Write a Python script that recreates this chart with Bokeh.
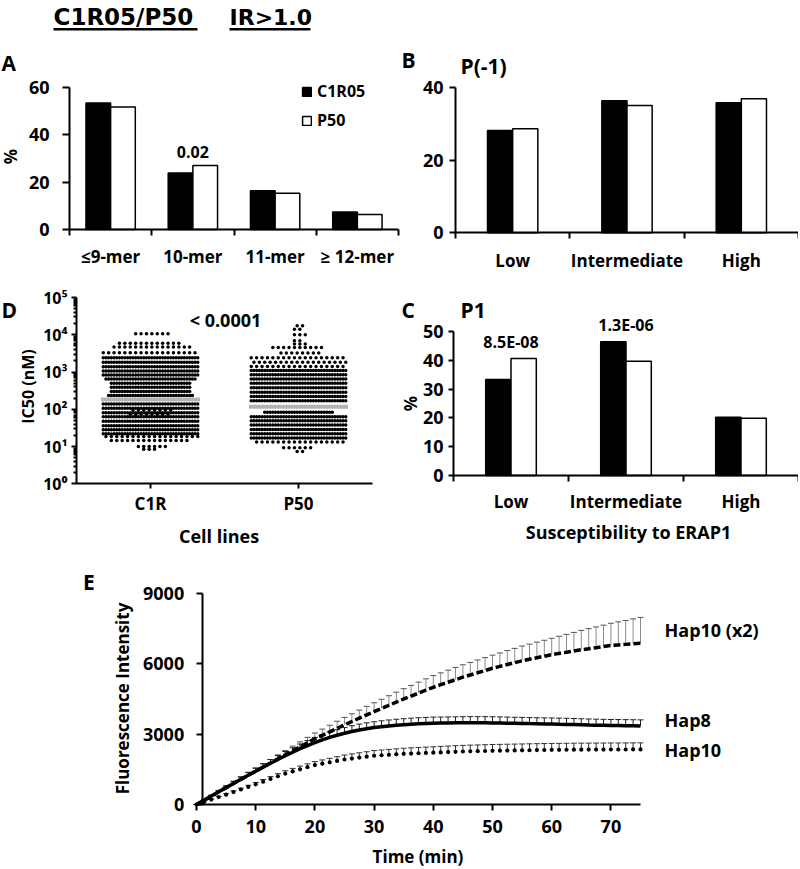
import numpy as np
from bokeh.plotting import figure
from bokeh.models import Range1d, FixedTicker, Label, Legend, LegendItem, BoxAnnotation
from bokeh.layouts import column, row
from bokeh.embed import file_html
from bokeh.resources import INLINE

FONT = "Open Sans"
HEAD_FONT = "DejaVu Sans"
NUM = "18px"
CAT = "17px"

# ---------------- data ----------------
A_CATS = ["≤9-mer", "10-mer", "11-mer", "≥ 12-mer"]
A_C1R05 = [53.3, 23.8, 16.3, 7.4]
A_P50 = [51.7, 27.0, 15.3, 6.3]
A_NOTE = ["", "0.02", "", ""]

B_CATS = ["Low", "Intermediate", "High"]
B_C1R05 = [28.1, 36.3, 35.7]
B_P50 = [28.6, 35.0, 36.8]

C_CATS = ["Low", "Intermediate", "High"]
C_C1R05 = [33.3, 46.4, 20.2]
C_P50 = [40.6, 39.7, 19.9]
C_NOTE = ["8.5E-08", "1.3E-06", ""]

D_GROUPS = ["C1R", "P50"]
# swarm rows: log10(IC50 nM) of each row and number of peptides in the row
C1R_LOG = [4.03, 3.77, 3.67, 3.52, 3.38, 3.38, 3.26, 3.26, 3.14, 3.14, 3.03, 3.03,
           2.92, 2.92, 2.81, 2.81, 2.70, 2.70, 2.59, 2.59, 2.48, 2.48, 2.37, 2.37,
           2.14, 2.14, 2.03, 2.03, 1.98, 1.91, 1.91, 1.86, 1.80, 1.80, 1.68, 1.68,
           1.56, 1.56, 1.45, 1.45, 1.34, 1.34, 1.27, 1.16, 1.00, 0.93]
C1R_N = [7, 12, 15, 18, 18, 18, 18, 18, 18, 18, 18, 18,
         18, 18, 17, 17, 15, 15, 15, 15, 15, 15, 16, 16,
         18, 18, 18, 18, 8, 18, 18, 8, 18, 18, 18, 18,
         18, 18, 18, 18, 18, 18, 18, 15, 6, 3]
P50_LOG = [4.24, 4.15, 4.00, 3.84, 3.75, 3.66, 3.51, 3.38, 3.26, 3.15,
           3.04, 3.04, 2.93, 2.93, 2.81, 2.81, 2.70, 2.70, 2.58, 2.58, 2.46, 2.46,
           2.34, 2.34, 2.23, 2.23, 1.92, 1.92, 1.80, 1.80, 1.69, 1.69, 1.58, 1.58,
           1.46, 1.46, 1.34, 1.34, 1.23, 1.23, 1.12, 0.97, 0.87]
P50_N = [2, 2, 3, 2, 3, 10, 8, 18, 18, 18,
         18, 18, 18, 18, 18, 18, 18, 18, 18, 18, 18, 18,
         18, 18, 18, 18, 13, 13, 18, 18, 18, 18, 18, 18,
         18, 18, 18, 18, 18, 18, 17, 6, 2]
D_MEDIAN = [182, 117]

E_T = [0, 1.25, 2.5, 3.75, 5, 6.25, 7.5, 8.75, 10, 11.25, 12.5, 13.75, 15, 16.25, 17.5,
       18.75, 20, 21.25, 22.5, 23.75, 25, 26.25, 27.5, 28.75, 30, 31.25, 32.5, 33.75,
       35, 36.25, 37.5, 38.75, 40, 41.25, 42.5, 43.75, 45, 46.25, 47.5, 48.75, 50,
       51.25, 52.5, 53.75, 55, 56.25, 57.5, 58.75, 60, 61.25, 62.5, 63.75, 65, 66.25,
       67.5, 68.75, 70, 71.25, 72.5, 73.75, 75]
HAP10X2 = [0, 170, 350, 540, 720, 900, 1070, 1250, 1420, 1600, 1770, 1950, 2120, 2290,
           2460, 2630, 2800, 2950, 3100, 3250, 3400, 3540, 3680, 3820, 3960, 4095, 4230,
           4365, 4500, 4625, 4750, 4875, 5000, 5110, 5215, 5325, 5430, 5525, 5620, 5715,
           5810, 5890, 5970, 6050, 6130, 6195, 6260, 6325, 6390, 6445, 6495, 6550, 6600,
           6645, 6690, 6735, 6780, 6805, 6830, 6855, 6880]
HAP10X2_SD = [0, 15, 30, 45, 60, 75, 90, 105, 120, 135, 150, 165, 180, 200, 215, 235, 250,
              265, 280, 300, 315, 330, 345, 365, 380, 395, 410, 425, 440, 455, 470, 485,
              500, 505, 515, 520, 530, 535, 545, 550, 560, 575, 595, 610, 630, 645, 665,
              680, 700, 730, 760, 790, 825, 855, 885, 915, 950, 985, 1020, 1060, 1100]
HAP8 = [0, 180, 360, 540, 720, 898, 1075, 1250, 1420, 1590, 1760, 1920, 2080, 2230, 2380,
        2515, 2640, 2755, 2860, 2955, 3040, 3115, 3180, 3235, 3280, 3318, 3350, 3378, 3400,
        3420, 3440, 3455, 3470, 3475, 3480, 3485, 3490, 3490, 3488, 3485, 3480, 3475, 3470,
        3465, 3460, 3452, 3445, 3438, 3430, 3422, 3415, 3408, 3400, 3392, 3385, 3378, 3370,
        3365, 3360, 3355, 3350]
HAP8_SD = [0, 20, 40, 60, 80, 95, 110, 125, 140, 150, 160, 170, 180, 190, 200, 210, 220,
           225, 230, 235, 240, 245, 250, 250, 250, 252, 255, 258, 260, 262, 262, 260, 258,
           256, 255, 255, 256, 258, 260, 262, 262, 260, 258, 256, 255, 255, 256, 258, 260,
           262, 262, 260, 258, 256, 255, 255, 256, 258, 260, 260, 260]
HAP10 = [0, 105, 210, 315, 420, 530, 640, 750, 860, 975, 1090, 1205, 1320, 1410, 1500,
         1590, 1680, 1740, 1800, 1860, 1920, 1960, 2000, 2040, 2080, 2100, 2120, 2140, 2160,
         2172, 2185, 2198, 2210, 2222, 2235, 2248, 2260, 2268, 2275, 2283, 2290, 2295, 2300,
         2305, 2310, 2315, 2320, 2325, 2330, 2332, 2335, 2338, 2340, 2341, 2342, 2344, 2345,
         2346, 2347, 2349, 2350]
HAP10_SD = [0, 10, 20, 30, 40, 50, 60, 70, 80, 90, 100, 110, 120, 130, 140, 145, 150, 160,
            170, 180, 190, 200, 205, 210, 220, 225, 230, 235, 240, 245, 248, 250, 252, 255,
            258, 260, 262, 265, 266, 268, 270, 270, 271, 272, 272, 273, 274, 274, 275, 275,
            276, 276, 277, 277, 278, 278, 279, 279, 280, 280, 280]
E_NAMES = ["Hap10 (x2)", "Hap8", "Hap10"]


# ---------------- helpers ----------------
def make_fig(w, h, page_left, page_top, fl, fr, ft, fb, xr, yr, ylog=False):
    """Figure whose frame fills the canvas; axes are pinned where the data extents
    (xr, yr) should land: x from page px fl..fr, y from page px fb..ft."""
    kx = (fr - fl) / (xr[1] - xr[0])
    x0 = xr[0] - (fl - page_left) / kx
    x1 = xr[1] + (page_left + w - fr) / kx
    l0, l1 = (np.log10(yr[0]), np.log10(yr[1])) if ylog else yr
    ky = (fb - ft) / (l1 - l0)
    y0 = l0 - (page_top + h - fb) / ky
    y1 = l1 + (ft - page_top) / ky
    if ylog:
        y0, y1 = 10 ** y0, 10 ** y1
    p = figure(width=w, height=h, x_range=Range1d(x0, x1), y_range=Range1d(y0, y1),
               y_axis_type="log" if ylog else "linear",
               output_backend="svg", toolbar_location=None,
               min_border=0, min_border_left=0, min_border_right=0,
               min_border_top=0, min_border_bottom=0)
    p.outline_line_color = None
    p.xgrid.visible = False
    p.ygrid.visible = False
    p.background_fill_color = "white"
    p.border_fill_color = "white"
    p.xaxis[0].fixed_location = yr[0]
    p.yaxis[0].fixed_location = xr[0]
    p.xaxis[0].bounds = (xr[0], xr[1])
    p.yaxis[0].bounds = (yr[0], yr[1])

    def conv(px, py):
        x = xr[0] + (px - fl) / (fr - fl) * (xr[1] - xr[0])
        yl = l0 + (fb - py) / (fb - ft) * (l1 - l0)
        y = 10 ** yl if ylog else yl
        return float(x), float(y)
    return p, conv


def txt(p, conv, px, py, s, size, align="center", angle=0.0, data_x=None, font=FONT):
    x, y = conv(px, py)
    if data_x is not None:
        x = data_x
    p.add_layout(Label(x=x, y=y, text=s, text_font=font, text_font_size=size,
                       text_font_style="bold", text_align=align, text_baseline="middle",
                       angle=angle, text_color="black"))


def style_axis(ax, tick_out, standoff, ticks, minor=(), minor_out=0, overrides=None,
               major_visible=True, size=NUM):
    ax.ticker = FixedTicker(ticks=list(ticks), minor_ticks=list(minor))
    ax.axis_line_color = "black"
    ax.axis_line_width = 2
    ax.major_tick_line_color = "black" if major_visible else None
    ax.major_tick_line_width = 2
    ax.major_tick_out = tick_out
    ax.major_tick_in = 0
    ax.minor_tick_line_color = "black" if minor_out else None
    ax.minor_tick_line_width = 2
    ax.minor_tick_out = minor_out
    ax.minor_tick_in = 0
    ax.major_label_text_font = FONT
    ax.major_label_text_font_style = "bold"
    ax.major_label_text_font_size = size
    ax.major_label_text_color = "black"
    ax.major_label_standoff = standoff
    if overrides:
        ax.major_label_overrides = overrides


def bar_pair(p, n, black_vals, white_vals, width):
    idx = np.arange(n)
    r1 = p.vbar(x=idx + 0.5 - width / 2, top=black_vals, width=width, bottom=0,
                fill_color="black", line_color="black", line_width=1.5)
    r2 = p.vbar(x=idx + 0.5 + width / 2, top=white_vals, width=width, bottom=0,
                fill_color="white", line_color="black", line_width=1.5)
    return r1, r2


def cat_axis(p, cats, standoff):
    n = len(cats)
    style_axis(p.xaxis[0], 0, standoff, [i + 0.5 for i in range(n)],
               minor=list(range(n + 1)), minor_out=6, size=CAT,
               overrides={i + 0.5: c for i, c in enumerate(cats)}, major_visible=False)


# ---------------- panel A ----------------
pA, cA = make_fig(400, 285, 0, 0, 69, 398, 86.7, 229, (0, 4), (0, 60))
a1, a2 = bar_pair(pA, len(A_CATS), A_C1R05, A_P50, 0.3)
cat_axis(pA, A_CATS, 9)
style_axis(pA.yaxis[0], 7, 13, [0, 20, 40, 60])
leg = Legend(items=[LegendItem(label="C1R05", renderers=[a1]),
                    LegendItem(label="P50", renderers=[a2])],
             location=(301, 154), orientation="vertical", glyph_width=11, glyph_height=11,
             label_height=20, label_standoff=5, spacing=7, padding=0, margin=0,
             border_line_color=None, background_fill_alpha=0,
             label_text_font=FONT, label_text_font_style="bold", label_text_font_size="16px",
             label_text_color="black")
pA.add_layout(leg)
for i, note in enumerate(A_NOTE):
    if note:
        txt(pA, cA, 0, 151, note, "16px", data_x=i + 0.5)
txt(pA, cA, 10, 156, "%", "17px", angle=np.pi / 2)
txt(pA, cA, 1, 62, "A", "21px", align="left")
txt(pA, cA, 53, 16.5, "C1R05/P50", "23px", align="left", font=HEAD_FONT)
txt(pA, cA, 229, 16.5, "IR>1.0", "22px", align="left", font=HEAD_FONT)
for (x0, x1) in [(53, 197), (229, 310)]:
    l, t = cA(x0, 27.5)
    r, b = cA(x1, 30)
    pA.add_layout(BoxAnnotation(left=l, right=r, top=t, bottom=b, fill_color="black",
                                fill_alpha=1, line_color=None))

# ---------------- panel B ----------------
pB, cB = make_fig(398, 285, 400, 0, 455, 798, 86.7, 232.3, (0, 3), (0, 40))
bar_pair(pB, len(B_CATS), B_C1R05, B_P50, 0.22)
cat_axis(pB, B_CATS, 10)
style_axis(pB.yaxis[0], 6, 6, [0, 20, 40])
txt(pB, cB, 401, 59, "B", "21px", align="left")
txt(pB, cB, 460, 65, "P(-1)", "21px", align="left")

# ---------------- panel D ----------------
pD, cD = make_fig(400, 263, 0, 285, 76, 372, 297, 483.3, (0, 2), (1, 1e5), ylog=True)
S_PX = 5.4
s_units = S_PX / (372 - 76) * 2


def swarm(center, logs, counts):
    xs, ys = [], []
    for k, (lv, n) in enumerate(zip(logs, counts)):
        off = (0.25 if k % 2 == 0 else -0.25) * s_units
        for j in range(n):
            xs.append(center + (j - (n - 1) / 2) * s_units + off)
            ys.append(10 ** lv)
    return xs, ys


for gi, (logs, counts) in enumerate([(C1R_LOG, C1R_N), (P50_LOG, P50_N)]):
    xs, ys = swarm(gi + 0.5, logs, counts)
    pD.scatter(xs, ys, marker="circle", size=3.5, fill_color="black", line_color=None)
half = 49.5 / (372 - 76) * 2
pD.segment(x0=[i + 0.5 - half for i in range(2)], x1=[i + 0.5 + half for i in range(2)],
           y0=D_MEDIAN, y1=D_MEDIAN, line_color="#b4b4b4", line_width=4)
style_axis(pD.xaxis[0], 5, 3, [0.5, 1.5], size=CAT,
           overrides={i + 0.5: g for i, g in enumerate(D_GROUPS)})
minor = [m * 10 ** e for e in range(0, 5) for m in range(2, 10)]
sup = "⁰¹²³⁴⁵"
style_axis(pD.yaxis[0], 5, 4, [10 ** e for e in range(6)], minor=minor, minor_out=3,
           overrides={10 ** e: "10" + sup[e] for e in range(6)}, size="16px")
txt(pD, cD, 1, 309.5, "D", "21px", align="left")
txt(pD, cD, 225, 319, "< 0.0001", "18px")
txt(pD, cD, 27.5, 386, "IC50 (nM)", "16px", angle=np.pi / 2)
txt(pD, cD, 218.5, 535, "Cell lines", "18px")

# ---------------- panel C ----------------
pC, cC = make_fig(398, 263, 400, 285, 453, 798, 331, 475, (0, 3), (0, 50))
bar_pair(pC, len(C_CATS), C_C1R05, C_P50, 0.22)
cat_axis(pC, C_CATS, 8)
style_axis(pC.yaxis[0], 5, 5, [0, 10, 20, 30, 40, 50])
note_y = [341, 324, 0]
for i, note in enumerate(C_NOTE):
    if note:
        txt(pC, cC, 0, note_y[i], note, "16px", data_x=i + 0.5)
txt(pC, cC, 401, 309, "C", "21px", align="left")
txt(pC, cC, 460, 309, "P1", "21px", align="left")
txt(pC, cC, 410, 403, "%", "17px", angle=np.pi / 2)
txt(pC, cC, 628, 531, "Susceptibility to ERAP1", "18px")

# ---------------- panel E ----------------
pE, cE = make_fig(798, 320, 0, 548, 196, 640, 593, 804, (0, 75), (0, 9000))
pE.yaxis[0].fixed_location = cE(201.7, 0)[0]
series = [(HAP10X2, HAP10X2_SD, "#8c8c8c", "#555555"),
          (HAP8, HAP8_SD, "#222222", "#222222"),
          (HAP10, HAP10_SD, "#333333", "#333333")]
for mean, sd, col, capcol in series:
    top = [m + s for m, s in zip(mean, sd)]
    pE.segment(x0=E_T, x1=E_T, y0=mean, y1=top, line_color=col, line_width=1)
    pE.scatter(E_T, top, marker="dash", size=6, line_color=capcol, line_width=1)
pE.line(E_T, HAP10X2, line_color="black", line_width=3.5, line_dash="7 3")
pE.line(E_T, HAP8, line_color="black", line_width=3.5)
pE.scatter(E_T, HAP10, marker="circle", size=4.2, fill_color="black", line_color=None)
style_axis(pE.xaxis[0], 6, 9, list(range(0, 71, 10)))
style_axis(pE.yaxis[0], 6, 12, [0, 3000, 6000, 9000])
txt(pE, cE, 88.5, 581.5, "E", "21px")
for name, py in zip(E_NAMES, [629, 719, 749.5]):
    txt(pE, cE, 664, py, name, "18px", align="left")
txt(pE, cE, 122, 698, "Fluorescence Intensity", "17px", angle=np.pi / 2)
txt(pE, cE, 417.5, 856, "Time (min)", "17px")

layout = column(row(pA, pB), row(pD, pC), pE)
open("out.html", "w").write(file_html(layout, INLINE))
